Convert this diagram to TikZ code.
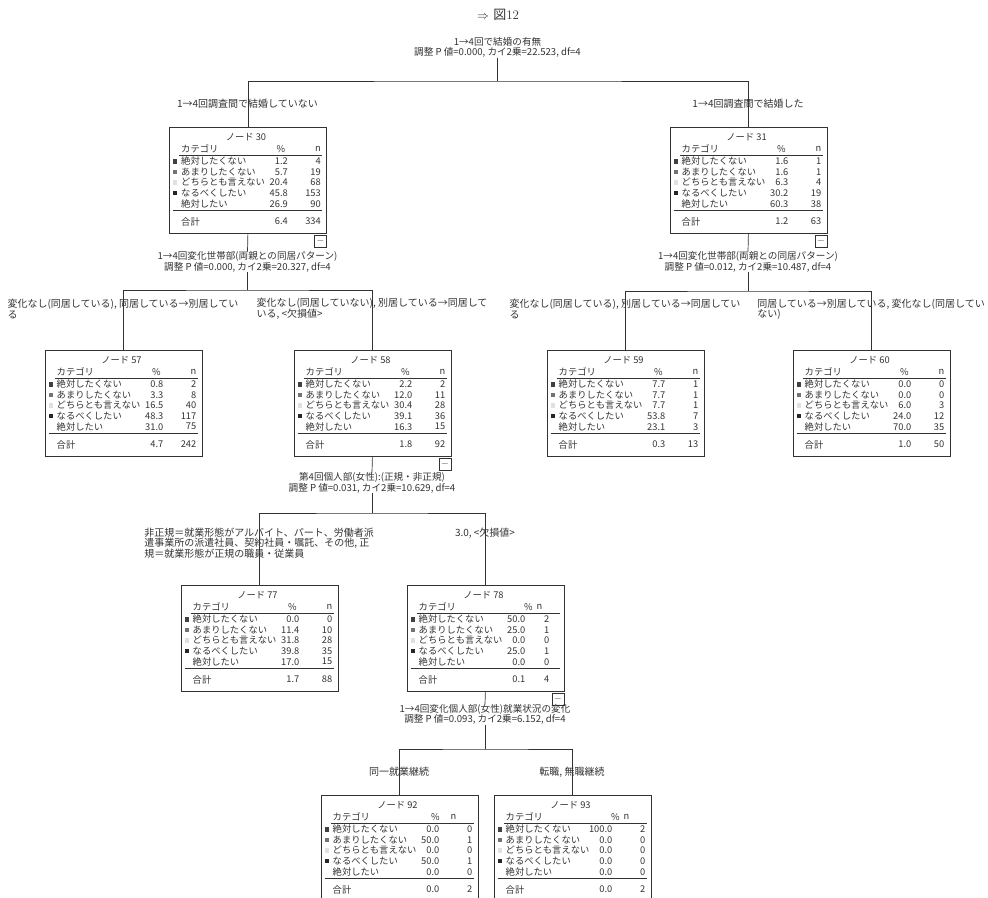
\documentclass[tikz,border=0pt]{standalone}
\usepackage{fontspec}
\newfontfamily\jp{Noto Sans CJK JP}
\usetikzlibrary{calc}
\definecolor{ink}{gray}{0.2}
\tikzset{
  txt/.style={font=\jp\fontsize{9.6}{10.4}\selectfont, text=ink, inner sep=0pt},
  cell/.style={txt, font=\jp\fontsize{9.3}{10}\selectfont},
  lbl/.style={txt, align=left, font=\jp\fontsize{10}{10.2}\selectfont},
  nodebox/.style={draw=ink, line width=0.8pt, minimum width=157pt, minimum height=106pt, inner sep=0pt},
  conn/.style={draw=ink, line width=0.7pt},
  rulestyle/.style={draw=ink, line width=0.6pt},
  splittxt/.style={txt, align=center},
  minusbox/.style={draw=ink, line width=0.6pt, minimum size=12pt, inner sep=0pt, fill=white, text=ink},
}
\def\ncol{152}
\newcommand\tnode[9]{%
 \begin{scope}[shift={(#2-78.5,#3)}]
  \node[nodebox, anchor=north west] (#1) at (0,0) {};
  \node[cell] (#1-t) at (77,10.5) {ノード #4};
  \node[cell, anchor=west] (#1-hc) at (12,22) {カテゴリ};
  \node[cell] (#1-hp) at (#8,22) {\%};
  \node[cell] (#1-hn) at (#9,22) {n};
  \draw[rulestyle] (10,28.5) -- (153,28.5);
  \foreach \cat/\col [count=\i] in {絶対したくない/black!75, あまりしたくない/black!55, どちらとも言えない/black!12, なるべくしたい/black!85, 絶対したい/white}{
     \pgfmathsetmacro\yy{23.7+10.6*\i}
     \fill[\col] (4,\yy-2.2) rectangle (8.4,\yy+2.2);
     \node[cell, anchor=west] (#1-c\i) at (12,\yy) {\cat};
  }
  \foreach \vp/\vn [count=\i] in {#5}{
     \pgfmathsetmacro\yy{23.7+10.6*\i}
     \node[cell, anchor=east] (#1-p\i) at (119,\yy) {\vp};
     \node[cell, anchor=east] (#1-n\i) at (\ncol,\yy) {\vn};
  }
  \draw[rulestyle] (4,83.5) -- (153,83.5);
  \node[cell, anchor=west] (#1-tot) at (12,94.5) {合計};
  \node[cell, anchor=east] (#1-tp) at (119,94.5) {#6};
  \node[cell, anchor=east] (#1-tn) at (\ncol,94.5) {#7};
 \end{scope}}
\newcommand\minus[1]{\node[minusbox, anchor=north east] (#1-m) at ([yshift=-1pt]#1.south east) {$-$};}
\begin{document}
\begin{tikzpicture}[x=1pt,y=-1pt]
\useasboundingbox (0,0) rectangle (988,897);
\fill[white] (0,0) rectangle (988,897);
\clip (0,0) rectangle (988,897);

\node[text=ink, inner sep=0pt, font=\fontsize{13}{13}\selectfont] (title) at (498,15) {$\Rightarrow$\ {\jp 図}12};

% root
\node[splittxt] (root) at (497.5,47.5) {1→4回で結婚の有無\\調整 P 値=0.000, カイ2乗=22.523, df=4};
\coordinate (b0) at (497.5,81);

% level 1
\tnode{n30}{247.5}{127}{30}{1.2/4,5.7/19,20.4/68,45.8/153,26.9/90}{6.4}{334}{112}{149}
\tnode{n31}{748}{127}{31}{1.6/1,1.6/1,6.3/4,30.2/19,60.3/38}{1.2}{63}{112}{149}
\minus{n30}
\minus{n31}
\draw[conn] (root.south) -- (b0);
\draw[conn] (n30.north) |- (b0) -| (n31.north);
\node[lbl] (l30) at (247.5,104) {1→4回調査間で結婚していない};
\node[lbl] (l31) at (748,104) {1→4回調査間で結婚した};

% split of node 30
\node[splittxt] (s30) at (247.5,262) {1→4回変化世帯部(両親との同居パターン)\\調整 P 値=0.000, カイ2乗=20.327, df=4};
\coordinate (b30) at (247.5,290);
\draw[conn] (n30.south) -- (s30.north);
\draw[conn] (s30.south) -- (b30);

% split of node 31
\node[splittxt] (s31) at (748,262) {1→4回変化世帯部(両親との同居パターン)\\調整 P 値=0.012, カイ2乗=10.487, df=4};
\coordinate (b31) at (748,291);
\draw[conn] (n31.south) -- (s31.north);
\draw[conn] (s31.south) -- (b31);

% level 2
\tnode{n57}{123}{350}{57}{0.8/2,3.3/8,16.5/40,48.3/117,31.0/75}{4.7}{242}{112}{149}
\tnode{n58}{372}{350}{58}{2.2/2,12.0/11,30.4/28,39.1/36,16.3/15}{1.8}{92}{112}{149}
\tnode{n59}{625}{350}{59}{7.7/1,7.7/1,7.7/1,53.8/7,23.1/3}{0.3}{13}{112}{149}
\tnode{n60}{871}{350}{60}{0.0/0,0.0/0,6.0/3,24.0/12,70.0/35}{1.0}{50}{112}{149}
\minus{n58}
\draw[conn] (n57.north) |- (b30) -| (n58.north);
\draw[conn] (n59.north) |- (b31) -| (n60.north);
\node[lbl] (l57) at (123,309) {変化なし(同居している), 同居している→別居してい\\る};
\node[lbl] (l58) at (372,309) {変化なし(同居していない), 別居している→同居して\\いる, <欠損値>};
\node[lbl] (l59) at (625,309) {変化なし(同居している), 別居している→同居してい\\る};
\node[lbl] (l60) at (871,309) {同居している→別居している, 変化なし(同居してい\\ない)};

% split of node 58
\node[splittxt] (s58) at (372,483) {第4回個人部(女性):(正規・非正規)\\調整 P 値=0.031, カイ2乗=10.629, df=4};
\coordinate (b58) at (372,513);
\draw[conn] (n58.south) -- (s58.north);
\draw[conn] (s58.south) -- (b58);

% level 3
\tnode{n77}{259}{585}{77}{0.0/0,11.4/10,31.8/28,39.8/35,17.0/15}{1.7}{88}{112}{149}
\def\ncol{143}
\tnode{n78}{485}{585}{78}{50.0/2,25.0/1,0.0/0,25.0/1,0.0/0}{0.1}{4}{122}{133}
\def\ncol{152}
\minus{n78}
\draw[conn] (n77.north) |- (b58) -| (n78.north);
\node[lbl] (l77) at (259,543) {非正規＝就業形態がアルバイト、パート、労働者派\\遣事業所の派遣社員、契約社員・嘱託、その他, 正\\規＝就業形態が正規の職員・従業員};
\node[lbl] (l78) at (485,533) {3.0, <欠損値>};

% split of node 78
\node[splittxt] (s78) at (485,714.5) {1→4回変化個人部(女性)就業状況の変化\\調整 P 値=0.093, カイ2乗=6.152, df=4};
\coordinate (b78) at (485,749);
\draw[conn] (n78.south) -- (s78.north);
\draw[conn] (s78.south) -- (b78);

% level 4
\tnode{n92}{399}{795}{92}{0.0/0,50.0/1,0.0/0,50.0/1,0.0/0}{0.0}{2}{115}{133}
\tnode{n93}{572}{795}{93}{100.0/2,0.0/0,0.0/0,0.0/0,0.0/0}{0.0}{2}{122}{133}
\draw[conn] (n92.north) |- (b78) -| (n93.north);
\node[lbl] (l92) at (399,772) {同一就業継続};
\node[lbl] (l93) at (572,772) {転職, 無職継続};
\end{tikzpicture}
\end{document}
